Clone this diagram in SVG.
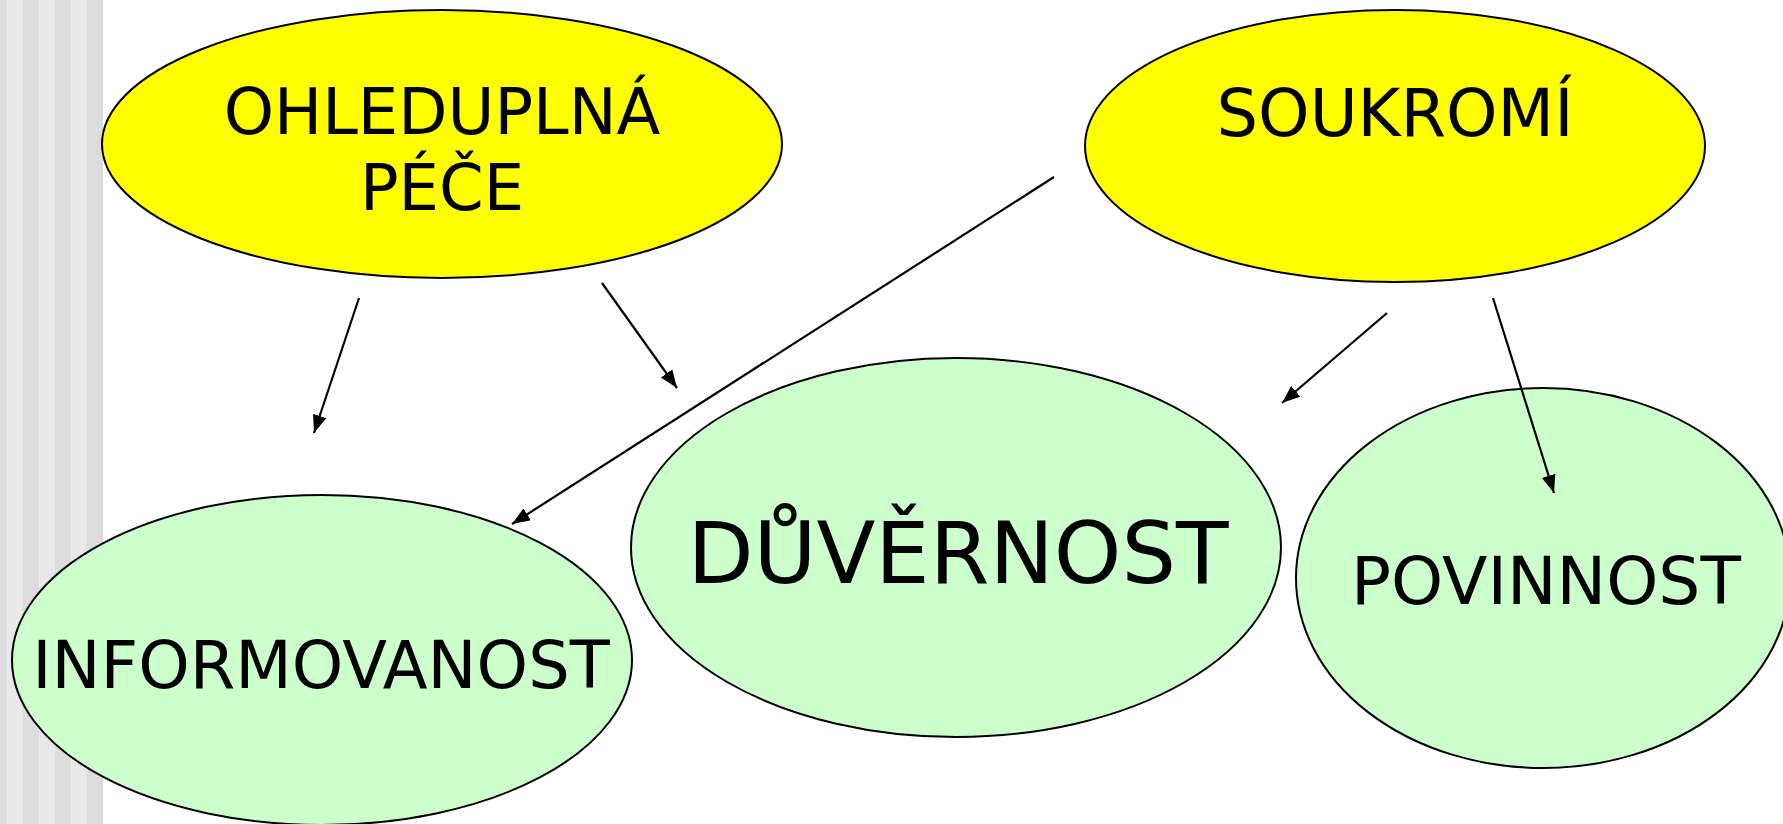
<svg xmlns="http://www.w3.org/2000/svg" width="1783" height="824" viewBox="0 0 1783 824">
<style>
.yel{fill:#FFFF00;stroke:#000;stroke-width:2}
.grn{fill:#CCFFCC;stroke:#000;stroke-width:2}
.lbl{font-family:"DejaVu Sans","Verdana",sans-serif;font-size:64px;fill:#000;text-anchor:middle}
.con line{stroke:#000;stroke-width:2.2;marker-end:url(#ah)}
.sd{fill:#DCDCDC}
.sl{fill:#E8E8E8}
</style>
<defs>
<marker id="ah" markerUnits="userSpaceOnUse" markerWidth="20" markerHeight="16" refX="18" refY="7" orient="auto">
<path d="M0,0 L18,7 L0,14 Z" fill="#000"/>
</marker>
</defs>
<rect width="1783" height="824" fill="#fff"/>
<g id="stripes">
<rect class="sd" x="0" y="0" width="7" height="824"/>
<rect class="sl" x="7" y="0" width="16" height="824"/>
<rect class="sd" x="23" y="0" width="16" height="824"/>
<rect class="sl" x="39" y="0" width="16" height="824"/>
<rect class="sd" x="55" y="0" width="16" height="824"/>
<rect class="sl" x="71" y="0" width="16" height="824"/>
<rect class="sd" x="87" y="0" width="16" height="824"/>
</g>
<g id="n-ohleduplna">
<ellipse class="yel" cx="442" cy="144" rx="340" ry="134"/>
<text class="lbl" x="442" y="134">OHLEDUPLNÁ</text>
<text class="lbl" x="442" y="210">PÉČE</text>
</g>
<g id="n-soukromi">
<ellipse class="yel" cx="1395" cy="146" rx="310" ry="136"/>
<text class="lbl" x="1395" y="136" style="font-size:65.5px">SOUKROMÍ</text>
</g>
<g id="n-informovanost">
<ellipse class="grn" cx="322" cy="660" rx="310" ry="165"/>
<text class="lbl" x="321" y="688" style="font-size:65.5px">INFORMOVANOST</text>
</g>
<g id="n-duvernost">
<ellipse class="grn" cx="956" cy="547.5" rx="325" ry="189.5"/>
<text class="lbl" x="958" y="583" style="font-size:86px">DŮVĚRNOST</text>
</g>
<g id="n-povinnost">
<ellipse class="grn" cx="1543" cy="578" rx="247" ry="190"/>
<text class="lbl" x="1546" y="604" style="font-size:66.3px">POVINNOST</text>
</g>
<g id="connectors" class="con">
<line x1="359" y1="298" x2="314" y2="433"/>
<line x1="602" y1="283" x2="677" y2="388"/>
<line x1="1054" y1="177" x2="512" y2="524"/>
<line x1="1387" y1="313" x2="1282" y2="403"/>
<line x1="1493" y1="298" x2="1554" y2="493"/>
</g>
</svg>
